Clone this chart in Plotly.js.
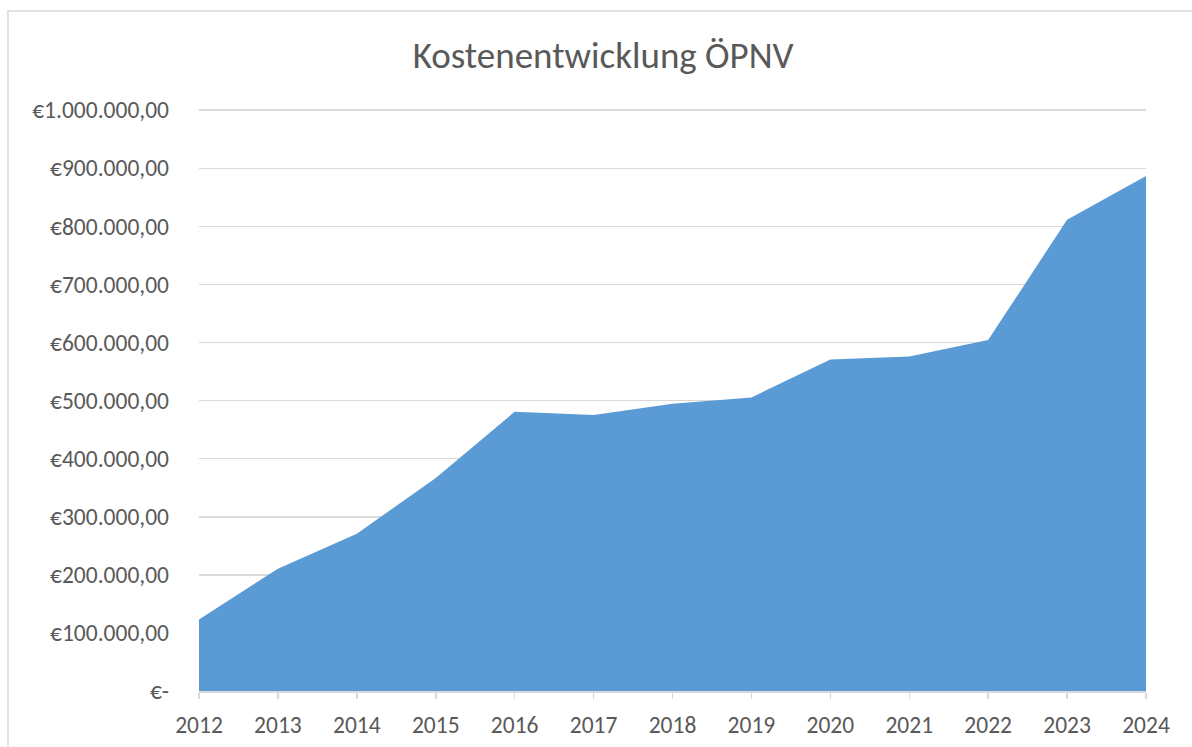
<!DOCTYPE html>
<html>
<head>
<meta charset="utf-8">
<script src="https://cdn.plot.ly/plotly-3.0.1.min.js"></script>
<style>html,body{margin:0;padding:0;background:#fff;}#chart{width:1192px;height:747px;}</style>
</head>
<body>
<div id="chart"></div>
<script>
const years = [2012, 2013, 2014, 2015, 2016, 2017, 2018, 2019, 2020, 2021, 2022, 2023, 2024];
const costs = [123300, 210400, 270600, 366900, 480800, 475100, 494600, 505400, 570700, 575900, 604100, 811400, 886500];
const yTickVals = [0, 100000, 200000, 300000, 400000, 500000, 600000, 700000, 800000, 900000, 1000000];
const yTickText = ['€-', '€100.000,00', '€200.000,00', '€300.000,00', '€400.000,00', '€500.000,00', '€600.000,00', '€700.000,00', '€800.000,00', '€900.000,00', '€1.000.000,00'];
const titleText = 'Kostenentwicklung ÖPNV';

const font = 'Carlito, Lato, "Open Sans", sans-serif';
const textColor = '#595959';

const trace = {
  x: years,
  y: costs,
  type: 'scatter',
  mode: 'none',
  fill: 'tozeroy',
  fillcolor: '#5b9bd5',
  hoverinfo: 'x+y'
};

const layout = {
  width: 1192,
  height: 747,
  margin: {l: 199, r: 46, t: 109, b: 55.5, pad: 0},
  paper_bgcolor: '#ffffff',
  plot_bgcolor: '#ffffff',
  showlegend: false,
  title: {
    text: titleText,
    font: {family: font, size: 37, color: textColor},
    x: 0.506, xref: 'container', xanchor: 'center',
    y: 0.926, yref: 'container', yanchor: 'middle'
  },
  xaxis: {
    range: [years[0], years[years.length - 1]],
    tickvals: years,
    ticktext: years.map(String),
    showgrid: false,
    zeroline: false,
    showline: true,
    linecolor: '#d9d9d9',
    linewidth: 1.5,
    ticks: 'outside',
    ticklen: 6,
    tickwidth: 1.5,
    tickcolor: '#d9d9d9',
    ticklabelstandoff: 6,
    tickfont: {family: font, size: 23.5, color: textColor},
    fixedrange: true
  },
  yaxis: {
    range: [0, 1002000],
    tickvals: yTickVals,
    ticktext: yTickText,
    showgrid: true,
    gridcolor: '#d9d9d9',
    gridwidth: 1.5,
    zeroline: false,
    showline: false,
    ticks: '',
    ticklabelstandoff: 29,
    tickfont: {family: font, size: 23.5, color: textColor},
    fixedrange: true
  },
  shapes: [{
    type: 'rect', xref: 'paper', yref: 'paper',
    x0: (8 - 199) / 947, x1: (1200 - 199) / 947,
    y0: (691.5 - 760) / 582.5, y1: (691.5 - 11) / 582.5,
    line: {color: '#d9d9d9', width: 1.5},
    fillcolor: 'rgba(0,0,0,0)',
    layer: 'below'
  }]
};

Plotly.newPlot('chart', [trace], layout, {displayModeBar: false, staticPlot: true});
</script>
</body>
</html>
